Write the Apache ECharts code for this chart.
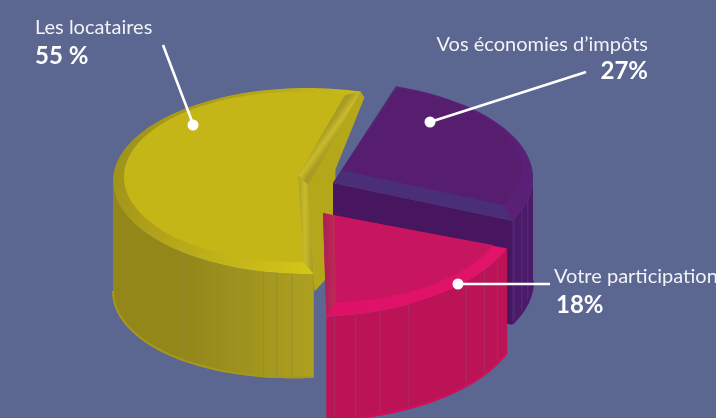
<!DOCTYPE html>
<html>
<head>
<meta charset="utf-8">
<style>html,body{margin:0;padding:0;background:#5b6691}#c{width:716px;height:418px}</style>
<script src="https://cdn.jsdelivr.net/npm/echarts@6/dist/echarts.min.js"></script>
</head>
<body>
<div id="c"></div>
<script>
var categories = ["Les locataires", "Vos économies d’impôts", "Votre participation"];
var shares = [55, 27, 18];
var shareLabels = ["55 %", "27%", "18%"];

var BG = "#5b6691";
function rad(d){return d*Math.PI/180;}
function grad(x,y,x2,y2,stops){
  return {type:'linear',x:x,y:y,x2:x2,y2:y2,global:true,colorStops:stops.map(function(c,i){
    return Array.isArray(c)?{offset:c[0],color:c[1]}:{offset:i/(stops.length-1),color:c};})};
}

var look = [
 { t0:88, outer:{cx:307,cy:181,rx:194,ry:93,ax:308,ay:185}, inner:{cx:297,cy:177,rx:173,ry:85,ax:298,ay:175}, h:104, hLeft:7,
   top:"#c5b617", bevel:grad(113,170,310,280,["#a0931a","#d6c718"]),
   side:grad(115,0,312,0,[[0,"#94871a"],[0.35,"#94871a"],[1,"#ada020"]]), facet:"#8f8a3a", foot:"#a5981c",
   facets:[130,122.7,117,112,107,103,99,94.4],
   startStrip:grad(298,0,312,0,["#aa9e26","#c9bb2a","#aa9e26"]),
   endStrip:grad(325,130,336,138,["#a89c24","#c9bb2a","#a89c24"]),
   wall:"#b4a719", wallOffsets:[[4,6],[-25,78],[-25,125],[-35,188],[-46,200]] },
 { t0:-71, outer:{cx:330,cy:178,rx:203,ry:97,ax:333,ay:183}, inner:{cx:337,cy:168,rx:185,ry:84,ax:342,ay:170}, h:104, hLeft:0,
   top:"#571e70", bevel:"#5a1f76",
   side:"#4b1a68", facet:"#5f3c86", foot:"#4b1a68",
   facets:[25,19,13],
   startStrip:"#4f2a78", endStrip:"#4a2f78",
   wall:"#47165f", frontWall:true },
 { t0:20, outer:{cx:307,cy:213,rx:213,ry:104,ax:323,ay:213}, inner:{cx:319,cy:215,rx:185,ry:88,ax:335,ay:216}, h:105, hLeft:0,
   top:"#c8155f", bevel:grad(330,315,500,255,["#df1068","#e01468"]),
   side:"#bb1356", facet:"#9c3a6a", foot:"#d0105c",
   facets:[82.6,76.8,70,61.6,41.6,33.5,26.5],
   startStrip:null, endStrip:grad(323,0,336,0,["#a81f55","#c22a55"]) }
];

var callouts = [
 { x1:35, x2:35, anchor:"left", y1:38, y2:68, line:[163,45,193,124] },
 { x1:648, x2:648, anchor:"right", y1:55, y2:83, line:[586,72,430,122] },
 { x1:554, x2:556, anchor:"left", y1:287, y2:317, line:[550,284,458,284] }
];

function pt(e,t,dy){return [e.cx+e.rx*Math.cos(rad(t)), e.cy+e.ry*Math.sin(rad(t))+(dy||0)];}
function arc(e,a,b,dy,extra){
  var p=[],n=Math.max(2,Math.ceil(Math.abs(b-a)/2));
  for(var i=0;i<=n;i++){
    var t=a+(b-a)*i/n;
    p.push(pt(e,t,(dy||0)+(extra?extra*Math.max(0,-Math.cos(rad(t))):0)));
  }
  return p;
}
function sector(e,a,b){return [[e.ax,e.ay]].concat(arc(e,a,b));}
function poly(points,fill){return {type:'polygon',silent:true,shape:{points:points},style:{fill:fill,stroke:null}};}

function renderItem(params, api){
  var L = look[params.dataIndex];
  var sweep = api.value(0)/100*360;
  var a = L.t0, b = a+sweep, o = L.outer, n = L.inner, kids = [];
  if (L.wallOffsets){
    var far = pt(o,b), pts=[[o.ax,o.ay],far];
    L.wallOffsets.forEach(function(d){pts.push([far[0]+d[0],far[1]+d[1]]);});
    kids.push(poly(pts,L.wall));
  }
  if (L.frontWall){
    var e0 = pt(o,b);
    kids.push(poly([[o.ax,o.ay],e0,[e0[0],e0[1]+L.h],[o.ax,o.ay+L.h]],L.wall));
  }
  var s1 = Math.max(a,0), s2 = Math.min(b,180);
  kids.push(poly(arc(o,s1,s2,0).concat(arc(o,s2,s1,L.h,L.hLeft)),L.side));
  L.facets.forEach(function(t){
    var d=L.h+L.hLeft*Math.max(0,-Math.cos(rad(t)));
    var p=pt(o,t,0),q=pt(o,t,d);
    kids.push({type:'line',silent:true,shape:{x1:p[0],y1:p[1],x2:q[0],y2:q[1]},style:{stroke:L.facet,lineWidth:0.8,opacity:0.8}});
  });
  kids.push({type:'polyline',silent:true,shape:{points:arc(o,s1,s2,L.h-1,L.hLeft)},style:{stroke:L.foot,lineWidth:2,fill:null}});
  kids.push(poly(sector(o,a,b),L.bevel));
  var ia = pt(n,a), oa = pt(o,a), ib = pt(n,b), ob = pt(o,b);
  if (L.startStrip) kids.push(poly([[o.ax,o.ay],[n.ax,n.ay],ia,oa],L.startStrip));
  if (L.endStrip) kids.push(poly([[o.ax,o.ay],[n.ax,n.ay],ib,ob],L.endStrip));
  kids.push(poly(sector(n,a,b),L.top));
  return {type:'group',children:kids};
}

var graphics = [];
categories.forEach(function(name,i){
  var c = callouts[i];
  graphics.push({type:'line',z:10,silent:true,shape:{x1:c.line[0],y1:c.line[1],x2:c.line[2],y2:c.line[3]},style:{stroke:"#fff",lineWidth:2.6}});
  graphics.push({type:'circle',z:10,silent:true,shape:{cx:c.line[2],cy:c.line[3]+(i==0?1:0),r:5.5},style:{fill:"#fff"}});
  graphics.push({type:'text',z:10,silent:true,x:c.x1,y:c.y1,style:{text:name,fill:"#f2f3f7",font:'400 20px Lato',textAlign:c.anchor,textVerticalAlign:'bottom'}});
  graphics.push({type:'text',z:10,silent:true,x:c.x2,y:c.y2,style:{text:shareLabels[i],fill:"#fff",font:'700 24px Lato',textAlign:c.anchor,textVerticalAlign:'bottom'}});
});

var chart = echarts.init(document.getElementById('c'),null,{renderer:'canvas'});
chart.setOption({
  animation:false,
  backgroundColor:BG,
  graphic:{elements:graphics},
  series:[{type:'custom',coordinateSystem:'none',silent:true,clip:false,renderItem:renderItem,
    data:shares.map(function(v,i){return {name:categories[i],value:[v]};})}]
});
</script>
</body>
</html>
